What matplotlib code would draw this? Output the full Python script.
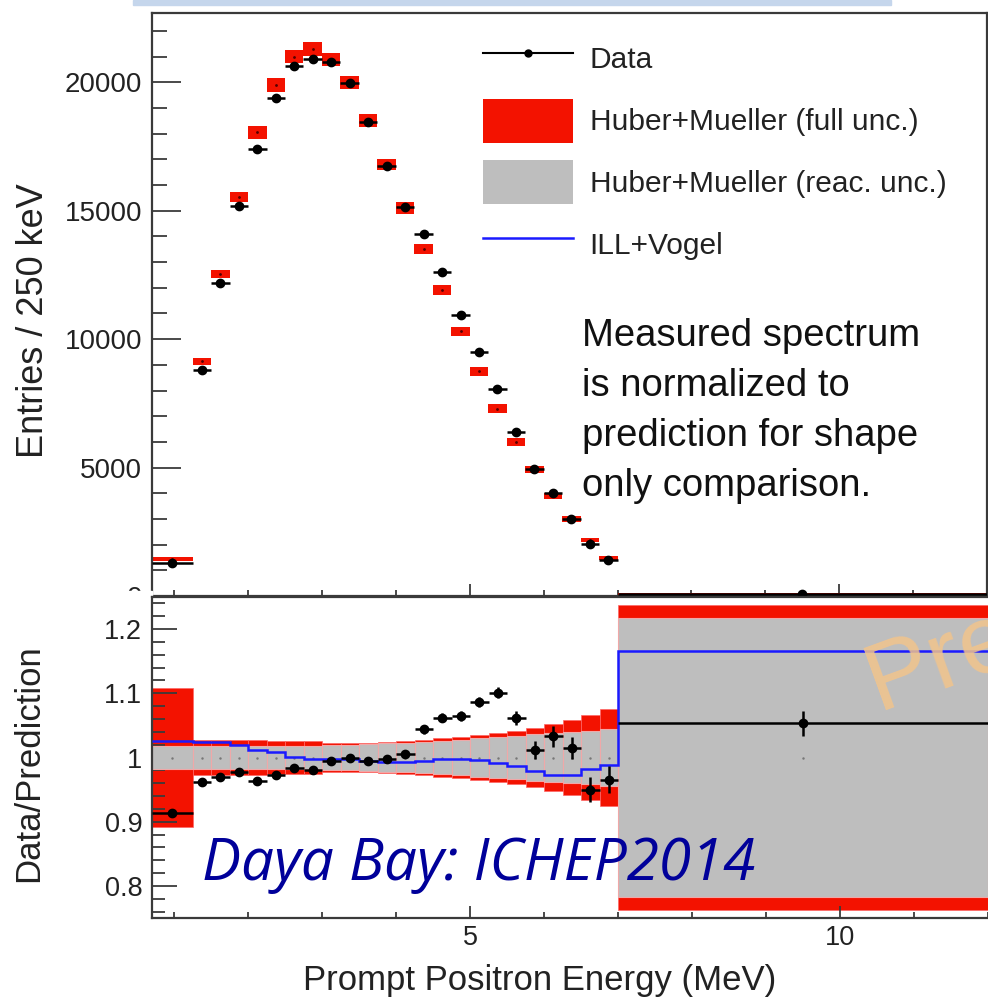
import matplotlib
matplotlib.use('Agg')
import matplotlib.pyplot as plt
import matplotlib.ticker as ticker
from matplotlib.patches import Patch, Rectangle
from matplotlib.lines import Line2D
import numpy as np

plt.rcParams['font.family'] = ['Liberation Sans', 'DejaVu Sans']

# energy bins (MeV)
edges = [0.7, 1.25, 1.5, 1.75, 2.0, 2.25, 2.5, 2.75, 3.0, 3.25, 3.5, 3.75, 4.0,
         4.25, 4.5, 4.75, 5.0, 5.25, 5.5, 5.75, 6.0, 6.25, 6.5, 6.75, 7.0, 12.0]

# top panel: entries / 250 keV
data_counts = [1300, 8790, 12190, 15200, 17400, 19400, 20650, 20900, 20800, 19960,
               18440, 16760, 15150, 14100, 12600, 10930, 9500, 8050, 6400, 4960,
               4020, 3000, 2030, 1410, 90]
pred_counts = [1440, 9140, 12540, 15550, 18050, 19900, 21000, 21300, 20900, 20000,
               18500, 16800, 15100, 13500, 11900, 10300, 8750, 7300, 6000, 4920,
               3900, 3000, 2190, 1480, 86]
pred_unc = [70, 137, 170, 195, 254, 280, 260, 260, 260, 248, 248, 228, 228, 195,
            195, 182, 182, 176, 150, 130, 120, 100, 80, 60, 40]

# bottom panel: data / prediction
ratio = [0.914, 0.962, 0.970, 0.978, 0.964, 0.973, 0.983, 0.980, 0.995, 1.000,
         0.995, 0.998, 1.006, 1.044, 1.062, 1.065, 1.086, 1.101, 1.062, 1.012,
         1.033, 1.015, 0.950, 0.965, 1.053]
ratio_err = [0.006, 0.005, 0.005, 0.005, 0.005, 0.005, 0.005, 0.005, 0.005, 0.005,
             0.006, 0.006, 0.006, 0.007, 0.007, 0.008, 0.008, 0.009, 0.011, 0.014,
             0.016, 0.017, 0.019, 0.021, 0.020]
ill_vogel = [1.025, 1.024, 1.024, 1.019, 1.011, 1.008, 1.001, 0.998, 0.997, 0.997,
             0.995, 0.993, 0.993, 0.995, 0.997, 0.997, 0.996, 0.992, 0.986, 0.979,
             0.972, 0.973, 0.982, 0.989, 1.166]
full_unc = [0.108, 0.027, 0.027, 0.027, 0.027, 0.025, 0.025, 0.025, 0.023, 0.023,
            0.023, 0.024, 0.025, 0.027, 0.030, 0.032, 0.035, 0.038, 0.042, 0.046,
            0.052, 0.058, 0.066, 0.075, 0.238]
reac_unc = [0.018, 0.018, 0.018, 0.018, 0.018, 0.018, 0.018, 0.018, 0.019, 0.020,
            0.021, 0.022, 0.023, 0.024, 0.026, 0.028, 0.030, 0.032, 0.034, 0.036,
            0.038, 0.040, 0.042, 0.044, 0.217]

RED = '#f31200'
GRAY = '#bebebe'
BLUE = '#1a1aff'
AX = '#3a3a3a'

e = np.array(edges)
centers = (e[1:] + e[:-1]) / 2
widths = e[1:] - e[:-1]
pred = np.array(pred_counts)
punc = np.array(pred_unc)
full = np.array(full_unc)
reac = np.array(reac_unc)

W, H = 988, 998
fig = plt.figure(figsize=(W / 100, H / 100), dpi=100)

# light blue strip at the top (slide decoration)
fig.patches.append(Rectangle((133 / W, 1 - 5 / H), (891 - 133) / W, 5 / H,
                             transform=fig.transFigure, color='#c5d6ec', zorder=0))
# the ratio pad hides the lower half of the top pad's "0" label
fig.patches.append(Rectangle((0, 0), 152 / W, 1 - 591 / H, transform=fig.transFigure,
                             color='white', zorder=0.5))

#############
# TOP PANEL #
#############
ax1 = fig.add_axes([152 / W, 402 / H, 835 / W, 583 / H])
ax1.set_zorder(0)
ax1.bar(centers, 2 * punc, bottom=pred - punc, width=widths, color=RED, zorder=2)
ax1.plot(centers, pred, ls='none', marker='.', ms=2, color='#550000', zorder=3)
ax1.errorbar(centers, data_counts, xerr=widths / 2, fmt='o', color='k', ms=6,
             elinewidth=1.8, zorder=4)
ax1.set_xlim(0.7, 12)
ax1.set_ylim(0, 22700)
ax1.yaxis.set_major_locator(ticker.MultipleLocator(5000))
ax1.yaxis.set_minor_locator(ticker.MultipleLocator(1000))
ax1.yaxis.set_major_formatter(ticker.FormatStrFormatter('%d'))
ax1.xaxis.set_major_locator(ticker.MultipleLocator(5))
ax1.xaxis.set_minor_locator(ticker.MultipleLocator(1))
ax1.tick_params(axis='y', which='major', direction='in', length=21, width=1.3,
                color=AX, labelsize=20, pad=7, labelcolor='#222')
ax1.tick_params(axis='y', which='minor', direction='in', length=11, width=1.3, color=AX)
ax1.tick_params(axis='x', which='major', direction='in', length=9, width=1.3,
                color=AX, labelbottom=False)
ax1.tick_params(axis='x', which='minor', direction='in', length=4.5, width=1.3, color=AX)
for s in ax1.spines.values():
    s.set_color(AX)
    s.set_linewidth(1.6)
ax1.set_ylabel('Entries / 250 keV', fontsize=26, va='center', color='#222')
ax1.yaxis.set_label_coords(-0.1425, 0.4717)

handles = [Line2D([], [], color='k', lw=1.5, marker='o', ms=5),
           Patch(facecolor=RED, edgecolor='none'),
           Patch(facecolor=GRAY, edgecolor='none'),
           Line2D([], [], color=BLUE, lw=1.8)]
labels = ['Data', 'Huber+Mueller (full unc.)', 'Huber+Mueller (reac. unc.)', 'ILL+Vogel']
ax1.legend(handles, labels, loc='upper left', bbox_to_anchor=(483 / W, 1 - 37 / H),
           bbox_transform=fig.transFigure, frameon=False, fontsize=21.5,
           handlelength=3.0, handleheight=1.88, handletextpad=0.57,
           labelspacing=0.6, borderpad=0, borderaxespad=0, labelcolor='#222')

fig.text(582 / W, 1 - 318 / H,
         'Measured spectrum\nis normalized to\nprediction for shape\nonly comparison.',
         fontsize=27.5, ha='left', va='top', linespacing=1.5, color='#111')

################
# RATIO PANEL  #
################
ax2 = fig.add_axes([152 / W, 80 / H, 836 / W, 321 / H])
ax2.set_zorder(1)
ax2.bar(centers, 2 * full, bottom=1 - full, width=widths, color=RED,
        edgecolor='#f66', linewidth=0.5, zorder=1)
ax2.bar(centers, 2 * reac, bottom=1 - reac, width=widths, color=GRAY,
        edgecolor='#f0a8a8', linewidth=0.8, zorder=2)
ax2.plot(centers, pred / pred, ls='none', marker='.', ms=1.5, color='#777', zorder=3)
ax2.stairs(ill_vogel, edges, baseline=None, color=BLUE, lw=1.8, zorder=4)
ax2.errorbar(centers, ratio, xerr=widths / 2, yerr=ratio_err, fmt='o', color='k',
             ms=6, elinewidth=1.8, zorder=5)
ax2.set_xlim(0.7, 12)
ax2.set_ylim(0.75, 1.25)
ax2.yaxis.set_major_locator(ticker.MultipleLocator(0.1))
ax2.yaxis.set_minor_locator(ticker.MultipleLocator(0.02))
ax2.yaxis.set_major_formatter(ticker.FormatStrFormatter('%g'))
ax2.xaxis.set_major_locator(ticker.MultipleLocator(5))
ax2.xaxis.set_minor_locator(ticker.MultipleLocator(1))
ax2.tick_params(axis='y', which='major', direction='in', length=18, width=1.3,
                color=AX, labelsize=19.5, pad=7, labelcolor='#222')
ax2.tick_params(axis='y', which='minor', direction='in', length=9, width=1.3, color=AX)
ax2.tick_params(axis='x', which='major', direction='in', length=9, width=1.3,
                color=AX, labelsize=19.5, pad=5, labelcolor='#222')
ax2.tick_params(axis='x', which='minor', direction='in', length=4.5, width=1.3, color=AX)
for s in ax2.spines.values():
    s.set_color(AX)
    s.set_linewidth(1.6)
ax2.spines['right'].set_visible(False)
ax2.set_ylabel('Data/Prediction', fontsize=25, va='center', color='#222')
ax2.yaxis.set_label_coords(-0.1473, 0.483)
ax2.set_xlabel('Prompt Positron Energy (MeV)', fontsize=25, va='center', color='#222')
ax2.xaxis.set_label_coords(0.464, -0.196)

# watermark, cut by the right edge of the slide
fig.text(878 / W, 1 - 710 / H, 'Preliminary', fontsize=70, color='#f2c48c', alpha=0.85,
         rotation=20, rotation_mode='anchor', ha='left', va='baseline', zorder=10)
fig.text(202 / W, 1 - 880 / H, 'Daya Bay: ICHEP2014', fontsize=42, style='italic',
         family=['Open Sans', 'Noto Sans', 'DejaVu Sans'], color='#00009a',
         ha='left', va='baseline', zorder=10)

fig.savefig('out.png', dpi=100)
